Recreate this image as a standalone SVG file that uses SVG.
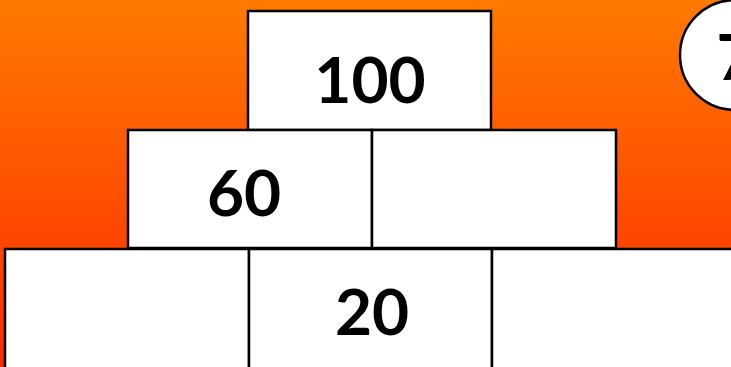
<svg xmlns="http://www.w3.org/2000/svg" width="731" height="367" viewBox="0 0 731 367">
<defs>
<linearGradient id="bg" x1="0" y1="0" x2="0" y2="1">
<stop offset="0" stop-color="#FF7A00"/>
<stop offset="1" stop-color="#FF2A00"/>
</linearGradient>
</defs>
<style>
.box{fill:#fff;stroke:#000;stroke-width:2.5}
.num{font-family:"Comic Sans MS","Lato","DejaVu Sans",sans-serif;font-weight:bold;font-size:64px;fill:#000;text-anchor:middle}
</style>
<rect x="0" y="0" width="731" height="367" fill="url(#bg)"/>
<g id="top"><rect class="box" x="248" y="11" width="243" height="119"/><text class="num" x="370" y="103">100</text></g>
<g id="mid-left"><rect class="box" x="128" y="130" width="244" height="118"/><text class="num" x="244" y="216">60</text></g>
<g id="mid-right"><rect class="box" x="372" y="130" width="244" height="118"/></g>
<g id="bot-left"><rect class="box" x="5" y="249" width="244" height="130"/></g>
<g id="bot-mid"><rect class="box" x="249" y="249" width="243" height="130"/><text class="num" x="372" y="335">20</text></g>
<g id="bot-right"><rect class="box" x="492" y="249" width="244" height="130"/></g>
<g id="badge"><circle cx="735" cy="55" r="55" fill="#fff" stroke="#000" stroke-width="2.5"/><text class="num" x="735" y="80" font-size="62">7</text></g>
<g id="connectors"/>
</svg>
